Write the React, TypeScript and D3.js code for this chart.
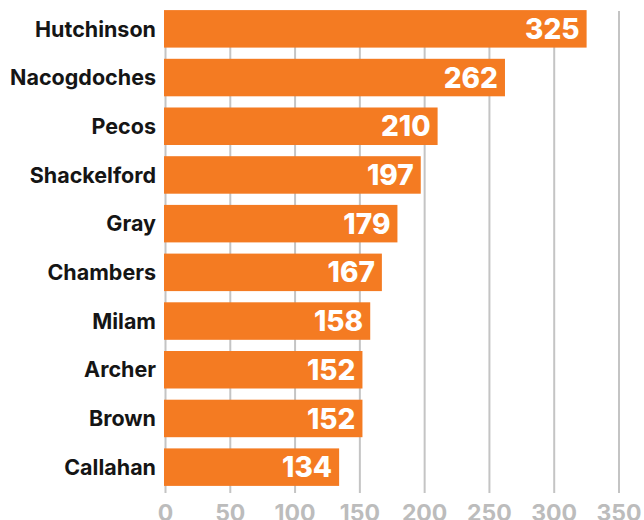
import * as d3 from 'd3';

const counties = ['Hutchinson', 'Nacogdoches', 'Pecos', 'Shackelford', 'Gray', 'Chambers', 'Milam', 'Archer', 'Brown', 'Callahan'];
const counts = [325, 262, 210, 197, 179, 167, 158, 152, 152, 134];
const ticks = [0, 50, 100, 150, 200, 250, 300, 350];

const W = 644;
const H = 520;
const FONT = 'Inter, "DejaVu Sans", sans-serif';

const App: React.FC = () => {
    const x = d3.scaleLinear().domain([0, 350]).range([165.5, 619]);
    const y = d3.scaleBand<string>()
        .domain(counties)
        .range([4.5, 491.5])
        .paddingInner(0.23)
        .paddingOuter(0.115);

    return (
        <svg width={W} height={H} style={{ position: 'absolute', left: 0, top: 0, background: '#fff' }}>
            <g>
                {ticks.map(t => (
                    <line key={t} x1={x(t)} x2={x(t)} y1={11} y2={493} stroke="#c4c4c4" strokeWidth={2} />
                ))}
            </g>
            <g>
                {counties.map((c, i) => (
                    <rect key={c} x={x(0) - 1.5} y={y(c)!} width={x(counts[i]) - x(0) + 1.5} height={y.bandwidth()} fill="#f47b22" />
                ))}
            </g>
            <g fontFamily={FONT} fontWeight={700} fontSize={21.5} fill="#151515">
                {counties.map(c => (
                    <text key={c} x={156} y={y(c)! + y.bandwidth() / 2} dy="0.36em" textAnchor="end">{c}</text>
                ))}
            </g>
            <g fontFamily={FONT} fontWeight={800} fontSize={28} fill="#fff">
                {counties.map((c, i) => (
                    <text key={c} x={x(counts[i]) - 7} y={y(c)! + y.bandwidth() / 2} dy="0.36em" textAnchor="end">{counts[i]}</text>
                ))}
            </g>
            <g fontFamily={FONT} fontWeight={700} fontSize={23} fill="#bcbcbc">
                {ticks.map(t => (
                    <text key={t} x={x(t)} y={521} textAnchor="middle">{t}</text>
                ))}
            </g>
        </svg>
    );
};

export default App;
